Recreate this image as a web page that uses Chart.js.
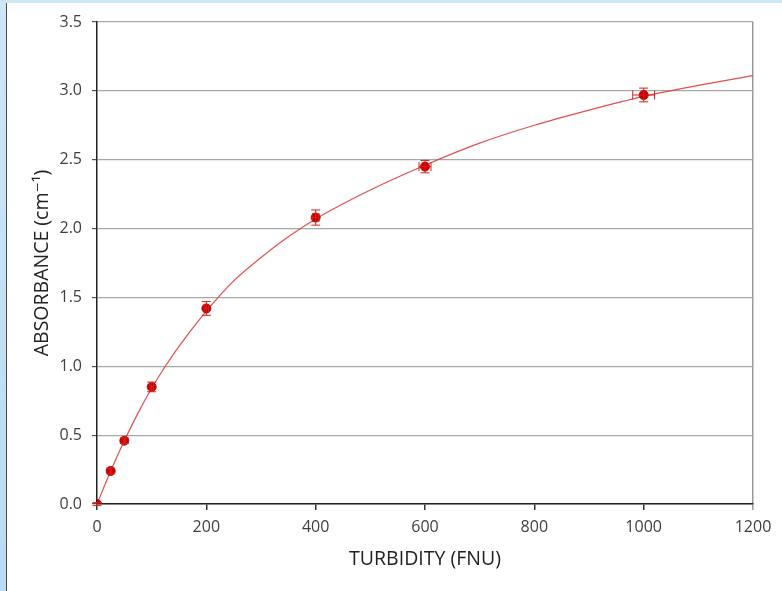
<!DOCTYPE html>
<html>
<head>
<meta charset="utf-8">
<script src="https://cdn.jsdelivr.net/npm/chart.js@4/dist/chart.umd.min.js"></script>
<style>
  html, body { margin: 0; padding: 0; }
  body {
    width: 782px; height: 591px; overflow: hidden; position: relative;
    background: linear-gradient(180deg, #cfe6f5 0%, #b9dbf1 100%);
  }
  #panel {
    position: absolute; left: 6px; top: 3px; right: 0; bottom: 0;
    background: #ffffff; border-left: 1px solid #4a4a4a;
  }
  #chart { position: absolute; left: 0; top: 0; }
</style>
</head>
<body>
<div id="panel"></div>
<canvas id="chart" width="782" height="591"></canvas>
<script>
// Measured absorbance against turbidity standards
const turbidity = [0, 25, 50, 100, 200, 400, 600, 1000];
const absorbance = [0, 0.24, 0.46, 0.85, 1.42, 2.08, 2.45, 2.97];
const absorbanceErr = [0.01, 0.02, 0.02, 0.035, 0.05, 0.055, 0.045, 0.05];
const turbidityErr = [0, 1, 2, 3, 4, 6, 11, 20];

// Calibration curve through the standards
const fitTurbidity = [0, 25, 50, 75, 100, 125, 150, 200, 250, 300, 350, 400, 500, 600, 700, 800, 900, 1000, 1100, 1200];
const fitAbsorbance = [0, 0.24, 0.46, 0.66, 0.84, 1.00, 1.145, 1.40, 1.62, 1.79, 1.94, 2.07, 2.28, 2.46, 2.62, 2.75, 2.86, 2.96, 3.04, 3.11];

// Axis ticks
const xTicks = [0, 200, 400, 600, 800, 1000, 1200];
const yTicks = [0, 0.5, 1.0, 1.5, 2.0, 2.5, 3.0, 3.5];

const FONT = "'Open Sans', 'DejaVu Sans', sans-serif";

// Draws x/y error bars with caps for the measured points
const errorBars = {
  id: 'errorBars',
  afterDatasetsDraw(chart) {
    const { ctx, scales: { x, y } } = chart;
    const cap = 4.5;
    ctx.save();
    ctx.strokeStyle = '#d42020';
    ctx.lineWidth = 1;
    turbidity.forEach((tx, i) => {
      const px = x.getPixelForValue(tx);
      const py = y.getPixelForValue(absorbance[i]);
      const yTop = y.getPixelForValue(absorbance[i] + absorbanceErr[i]);
      const yBot = y.getPixelForValue(absorbance[i] - absorbanceErr[i]);
      ctx.beginPath();
      ctx.moveTo(px, yTop); ctx.lineTo(px, yBot);
      ctx.moveTo(px - cap, yTop); ctx.lineTo(px + cap, yTop);
      ctx.moveTo(px - cap, yBot); ctx.lineTo(px + cap, yBot);
      if (turbidityErr[i] > 0) {
        const xL = x.getPixelForValue(tx - turbidityErr[i]);
        const xR = x.getPixelForValue(tx + turbidityErr[i]);
        ctx.moveTo(xL, py); ctx.lineTo(xR, py);
        ctx.moveTo(xL, py - cap); ctx.lineTo(xL, py + cap);
        ctx.moveTo(xR, py - cap); ctx.lineTo(xR, py + cap);
      }
      ctx.stroke();
    });
    ctx.restore();
  }
};

new Chart(document.getElementById('chart'), {
  type: 'scatter',
  data: {
    datasets: [
      {
        label: 'Fit',
        type: 'line',
        data: fitTurbidity.map((t, i) => ({ x: t, y: fitAbsorbance[i] })),
        borderColor: 'rgba(222, 60, 60, 0.9)',
        borderWidth: 1.2,
        pointRadius: 0,
        cubicInterpolationMode: 'monotone',
        fill: false,
        order: 2
      },
      {
        label: 'Absorbance',
        data: turbidity.map((t, i) => ({ x: t, y: absorbance[i] })),
        backgroundColor: '#c40000',
        borderColor: '#c40000',
        pointRadius: 4.5,
        pointHoverRadius: 4.5,
        order: 1
      }
    ]
  },
  options: {
    responsive: false,
    animation: false,
    events: [],
    layout: { padding: { left: 0, top: 22, right: 29, bottom: 0 } },
    plugins: { legend: { display: false }, tooltip: { enabled: false } },
    scales: {
      x: {
        type: 'linear',
        min: 0, max: 1200,
        afterFit(scale) { scale.height = 87; },
        afterBuildTicks(scale) { scale.ticks = xTicks.map(v => ({ value: v })); },
        ticks: {
          color: '#404040',
          font: { family: FONT, size: 16 },
          padding: 8,
          maxRotation: 0,
          callback: v => String(v)
        },
        grid: {
          color: ctx => (ctx.tick && ctx.tick.value === 1200) ? '#9a9a9a' : 'rgba(0,0,0,0)',
          tickColor: ctx => (ctx.tick && ctx.tick.value === 1200) ? '#9a9a9a' : '#333333',
          tickLength: 6,
          lineWidth: 1.5
        },
        border: { color: '#222222', width: 1.5 },
        title: {
          display: true,
          text: 'TURBIDITY (FNU)',
          color: '#222222',
          font: { family: FONT, size: 19.5 },
          padding: { top: 0, bottom: 20 }
        }
      },
      y: {
        type: 'linear',
        min: 0, max: 3.5,
        afterFit(scale) { scale.width = 97; },
        afterBuildTicks(scale) { scale.ticks = yTicks.map(v => ({ value: v })); },
        ticks: {
          color: '#404040',
          font: { family: FONT, size: 16 },
          padding: 10,
          callback: v => Number(v).toFixed(1)
        },
        grid: {
          color: '#a8a8a8',
          tickColor: '#555555',
          tickLength: 5,
          lineWidth: 1.2
        },
        border: { color: '#222222', width: 1.5 },
        title: {
          display: true,
          text: 'ABSORBANCE (cm\u207B\u00B9)',
          color: '#222222',
          font: { family: FONT, size: 19.5 },
          padding: { top: 31, bottom: 0 }
        }
      }
    }
  },
  plugins: [errorBars]
});
</script>
</body>
</html>
